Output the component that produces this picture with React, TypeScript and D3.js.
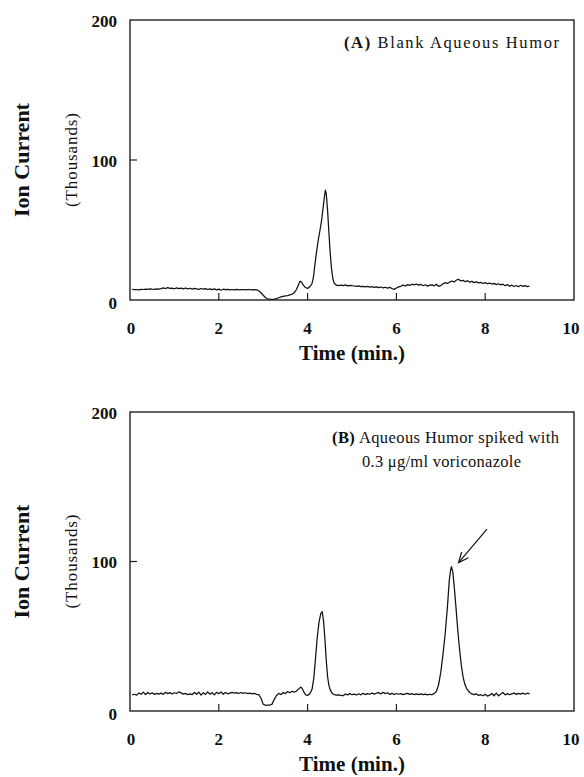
import React from "react";
import * as d3 from "d3";

// ---------- data ----------
const xTicks = [0, 2, 4, 6, 8, 10];
const yTicks = [0, 100, 200];
const xDomain: [number, number] = [0, 10];
const yDomain: [number, number] = [0, 200];

const panelATitleBold = "(A)";
const panelATitle = " Blank  Aqueous  Humor";
const panelBTitleBold = "(B)";
const panelBTitle = " Aqueous Humor spiked with";
const panelBTitle2 = "0.3 \u03bcg/ml  voriconazole";
const xTitle = "Time (min.)";
const yTitle = "Ion Current";
const yUnits = "(Thousands)";

// arrow annotation in data coords (panel B): [time, value]
const arrowFrom: [number, number] = [8.04, 121.7];
const arrowTo: [number, number] = [7.4, 99.3];

// Panel A: blank aqueous humor chromatogram [time (min), ion current (thousands)]
const traceA: [number, number][] = [
  [0.05, 7.6], [0.1, 7.4], [0.15, 7.5], [0.2, 7.3], [0.25, 7.6], [0.3, 7.5], [0.35, 7.8], [0.4, 7.6],
  [0.45, 7.9], [0.5, 7.7], [0.55, 7.6], [0.6, 8.0], [0.65, 7.8], [0.7, 8.1], [0.75, 8.6], [0.8, 8.2],
  [0.85, 8.8], [0.9, 8.3], [0.95, 8.5], [1.0, 8.0], [1.05, 8.7], [1.1, 8.1], [1.15, 8.5], [1.2, 7.9],
  [1.25, 8.6], [1.3, 8.0], [1.35, 8.4], [1.4, 7.8], [1.45, 8.3], [1.5, 8.0], [1.55, 7.6], [1.6, 8.2],
  [1.65, 7.7], [1.7, 8.1], [1.75, 7.5], [1.8, 8.0], [1.85, 7.4], [1.9, 7.9], [1.95, 7.2], [2.0, 7.8],
  [2.05, 7.0], [2.1, 7.7], [2.15, 7.4], [2.2, 7.6], [2.25, 7.3], [2.3, 7.5], [2.35, 7.2], [2.4, 7.6],
  [2.45, 7.3], [2.5, 7.4], [2.55, 7.5], [2.6, 7.3], [2.65, 7.4], [2.7, 7.5], [2.75, 7.3], [2.8, 7.4],
  [2.85, 7.2], [2.9, 6.6], [2.95, 5.2], [3.0, 3.4], [3.05, 1.8], [3.1, 0.9], [3.15, 0.6], [3.2, 0.5],
  [3.25, 0.7], [3.3, 1.0], [3.35, 1.6], [3.4, 2.2], [3.45, 2.6], [3.5, 3.0], [3.55, 3.2], [3.6, 3.6],
  [3.65, 4.2], [3.7, 5.2], [3.75, 7.5], [3.8, 11.2], [3.83, 13.4], [3.86, 13.0], [3.9, 10.8], [3.95, 8.9],
  [4.0, 8.3], [4.05, 9.4], [4.1, 11.8], [4.13, 16], [4.16, 24], [4.2, 34], [4.24, 43], [4.28, 50],
  [4.32, 58], [4.35, 66], [4.38, 74], [4.4, 78.5], [4.42, 76], [4.45, 64], [4.48, 48], [4.51, 33],
  [4.54, 22], [4.57, 15], [4.6, 12], [4.65, 10.6], [4.7, 10.2], [4.75, 10.6], [4.8, 10.3], [4.85, 10.8],
  [4.9, 10.1], [4.95, 10.5], [5.0, 10.2], [5.05, 10.0], [5.1, 9.8], [5.15, 10.1], [5.2, 9.6], [5.25, 9.8],
  [5.3, 9.4], [5.35, 9.7], [5.4, 9.2], [5.45, 9.5], [5.5, 9.0], [5.55, 9.4], [5.6, 8.8], [5.65, 9.3],
  [5.7, 8.6], [5.75, 9.1], [5.8, 8.5], [5.85, 9.0], [5.9, 8.2], [5.95, 7.6], [6.0, 8.6], [6.05, 9.4],
  [6.1, 9.8], [6.15, 10.6], [6.2, 10.0], [6.25, 11.0], [6.3, 10.4], [6.35, 11.3], [6.4, 10.8], [6.45, 11.4],
  [6.5, 10.6], [6.55, 11.1], [6.6, 10.2], [6.65, 10.9], [6.7, 9.9], [6.75, 10.6], [6.8, 10.8], [6.85, 10.1],
  [6.9, 11.2], [6.95, 9.8], [7.0, 10.3], [7.05, 11.6], [7.1, 12.4], [7.15, 11.8], [7.2, 12.8], [7.25, 13.6],
  [7.3, 12.9], [7.35, 14.2], [7.4, 14.8], [7.45, 13.6], [7.5, 14.0], [7.55, 13.0], [7.6, 13.8], [7.65, 12.7],
  [7.7, 13.3], [7.75, 12.4], [7.8, 13.0], [7.85, 12.2], [7.9, 12.6], [7.95, 11.8], [8.0, 12.4], [8.05, 11.6],
  [8.1, 12.1], [8.15, 11.4], [8.2, 11.9], [8.25, 11.0], [8.3, 11.6], [8.35, 10.8], [8.4, 11.3], [8.45, 10.2],
  [8.5, 11.0], [8.55, 9.8], [8.6, 10.6], [8.65, 9.6], [8.7, 10.4], [8.75, 9.5], [8.8, 10.5], [8.85, 9.7],
  [8.9, 10.3], [8.95, 9.6], [9.0, 10.0],
];

// Panel B: aqueous humor spiked with 0.3 ug/ml voriconazole
const traceB: [number, number][] = [
  [0.05, 10.8], [0.1, 11.2], [0.15, 10.6], [0.2, 12.0], [0.25, 11.2], [0.3, 12.6], [0.35, 11.0], [0.4, 12.4],
  [0.45, 11.4], [0.5, 12.2], [0.55, 11.0], [0.6, 11.8], [0.65, 11.3], [0.7, 12.0], [0.75, 11.1], [0.8, 12.5],
  [0.85, 11.6], [0.9, 12.3], [0.95, 11.4], [1.0, 12.2], [1.05, 11.7], [1.1, 12.8], [1.15, 12.1], [1.2, 11.3],
  [1.25, 11.8], [1.3, 10.9], [1.35, 11.5], [1.4, 11.0], [1.45, 12.4], [1.5, 11.2], [1.55, 12.6], [1.6, 10.6],
  [1.65, 12.3], [1.7, 11.1], [1.75, 12.7], [1.8, 11.3], [1.85, 12.2], [1.9, 10.8], [1.95, 12.5], [2.0, 11.6],
  [2.05, 12.8], [2.1, 11.2], [2.15, 12.4], [2.2, 11.5], [2.25, 12.0], [2.3, 12.5], [2.35, 11.9], [2.4, 12.3],
  [2.45, 11.7], [2.5, 12.4], [2.55, 11.8], [2.6, 12.2], [2.65, 11.6], [2.7, 11.9], [2.75, 11.4], [2.8, 11.8],
  [2.85, 11.2], [2.9, 11.0], [2.95, 8.5], [3.0, 4.6], [3.05, 3.8], [3.1, 3.9], [3.15, 4.0], [3.2, 4.6],
  [3.25, 7.8], [3.3, 10.4], [3.35, 11.8], [3.4, 11.0], [3.45, 12.4], [3.5, 11.6], [3.55, 13.0], [3.6, 12.2],
  [3.65, 13.2], [3.7, 12.6], [3.75, 13.4], [3.8, 14.8], [3.85, 16.0], [3.88, 15.0], [3.92, 12.4], [3.96, 10.8],
  [4.0, 10.4], [4.05, 11.6], [4.1, 14.5], [4.14, 22], [4.18, 36], [4.22, 50], [4.26, 60], [4.3, 65.5],
  [4.33, 66.4], [4.36, 60], [4.39, 48], [4.42, 34], [4.45, 23], [4.48, 17], [4.52, 13.4], [4.56, 11.6],
  [4.6, 11.0], [4.65, 10.6], [4.7, 10.8], [4.75, 10.5], [4.8, 10.2], [4.85, 11.4], [4.9, 10.8], [4.95, 11.6],
  [5.0, 10.9], [5.05, 11.3], [5.1, 10.7], [5.15, 11.5], [5.2, 10.8], [5.25, 11.8], [5.3, 11.0], [5.35, 11.6],
  [5.4, 11.2], [5.45, 12.0], [5.5, 11.3], [5.55, 11.9], [5.6, 12.3], [5.65, 11.4], [5.7, 12.5], [5.75, 11.6],
  [5.8, 12.2], [5.85, 11.1], [5.9, 11.8], [5.95, 11.0], [6.0, 11.7], [6.05, 11.2], [6.1, 11.6], [6.15, 11.0],
  [6.2, 11.5], [6.25, 11.8], [6.3, 11.1], [6.35, 11.6], [6.4, 10.9], [6.45, 11.5], [6.5, 11.0], [6.55, 11.4],
  [6.6, 10.9], [6.65, 11.3], [6.7, 10.8], [6.75, 11.2], [6.8, 11.0], [6.85, 11.6], [6.9, 13.0], [6.95, 17.5],
  [7.0, 26], [7.05, 38], [7.1, 52], [7.15, 70], [7.19, 87], [7.22, 94], [7.24, 96.5], [7.27, 93],
  [7.3, 84], [7.34, 70], [7.38, 55], [7.42, 42], [7.46, 31], [7.5, 23], [7.54, 18], [7.58, 15],
  [7.62, 13.4], [7.66, 12.2], [7.7, 11.4], [7.75, 11.0], [7.8, 11.5], [7.85, 10.4], [7.9, 10.9], [7.95, 10.2],
  [8.0, 11.2], [8.05, 10.0], [8.1, 10.6], [8.15, 11.7], [8.2, 10.2], [8.25, 11.9], [8.3, 10.1], [8.35, 11.3],
  [8.4, 12.4], [8.45, 10.8], [8.5, 11.6], [8.55, 10.9], [8.6, 11.5], [8.65, 12.0], [8.7, 11.1], [8.75, 11.8],
  [8.8, 11.3], [8.85, 12.0], [8.9, 11.2], [8.95, 11.9], [9.0, 11.5],
];

// ---------- layout ----------
const W = 584;
const H = 777;
const FONT = "'Liberation Serif', 'Times New Roman', serif";
const plotLeft = 130;
const plotRight = 574;
const panelA = { top: 20, bottom: 300 };
const panelB = { top: 412, bottom: 711 };

type PanelProps = {
  top: number;
  bottom: number;
  data: [number, number][];
  xTitleY: number;
  children?: React.ReactNode;
  renderExtra?: (x: d3.ScaleLinear<number, number>, y: d3.ScaleLinear<number, number>) => React.ReactNode;
};

function Panel({ top, bottom, data, xTitleY, children, renderExtra }: PanelProps) {
  const x = d3.scaleLinear().domain(xDomain).range([plotLeft, plotRight]);
  const y = d3.scaleLinear().domain(yDomain).range([bottom, top]);
  const line = d3
    .line<[number, number]>()
    .x((d) => x(d[0]))
    .y((d) => y(d[1]))
    .curve(d3.curveLinear);
  const tickLen = 7;
  const midY = (top + bottom) / 2;
  return (
    <g>
      {/* frame */}
      <rect
        x={plotLeft}
        y={top}
        width={plotRight - plotLeft}
        height={bottom - top}
        fill="none"
        stroke="#222"
        strokeWidth={1.4}
      />
      {/* x ticks (inward), skip ends */}
      {xTicks
        .filter((t) => t > xDomain[0] && t < xDomain[1])
        .map((t) => (
          <line key={"xt" + t} x1={x(t)} x2={x(t)} y1={bottom} y2={bottom - tickLen} stroke="#222" strokeWidth={1.2} />
        ))}
      {/* y ticks (inward), skip ends */}
      {yTicks
        .filter((t) => t > yDomain[0] && t < yDomain[1])
        .map((t) => (
          <line key={"yt" + t} x1={plotLeft} x2={plotLeft + tickLen} y1={y(t)} y2={y(t)} stroke="#222" strokeWidth={1.2} />
        ))}
      {/* x tick labels */}
      {xTicks.map((t) => (
        <text
          key={"xl" + t}
          x={x(t) + (t === xDomain[0] ? 1 : t === xDomain[1] ? -3 : 0)}
          y={bottom + 34}
          textAnchor="middle"
          fontFamily={FONT}
          fontWeight="bold"
          fontSize={17}
          fill="#111"
        >
          {t}
        </text>
      ))}
      {/* y tick labels */}
      {yTicks.map((t) => (
        <text
          key={"yl" + t}
          x={plotLeft - 13}
          y={y(t) + (t === 0 ? 9 : 6.5)}
          textAnchor="end"
          fontFamily={FONT}
          fontWeight="bold"
          fontSize={17}
          fill="#111"
        >
          {t}
        </text>
      ))}
      {/* axis titles */}
      <text
        transform={`translate(29,${midY}) rotate(-90)`}
        textAnchor="middle"
        fontFamily={FONT}
        fontWeight="bold"
        fontSize={22}
        fill="#111"
      >
        {yTitle}
      </text>
      <text
        transform={`translate(${77},${midY - 47}) rotate(-90)`}
        textAnchor="start"
        fontFamily={FONT}
        fontSize={17}
        fill="#111"
        textLength={94}
        lengthAdjust="spacing"
        x={-94}
      >
        {yUnits}
      </text>
      <text
        x={352}
        y={xTitleY}
        textAnchor="middle"
        fontFamily={FONT}
        fontWeight="bold"
        fontSize={21}
        fill="#111"
      >
        {xTitle}
      </text>
      {/* trace */}
      <path d={line(data) || ""} fill="none" stroke="#111" strokeWidth={1.25} strokeLinejoin="round" />
      {renderExtra ? renderExtra(x, y) : null}
      {children}
    </g>
  );
}

function Arrow({ x1, y1, x2, y2 }: { x1: number; y1: number; x2: number; y2: number }) {
  const ang = Math.atan2(y2 - y1, x2 - x1);
  const len = 11;
  const spread = 0.42;
  const a1 = ang + Math.PI - spread;
  const a2 = ang + Math.PI + spread;
  return (
    <g stroke="#111" strokeWidth={1.2} fill="none">
      <line x1={x1} y1={y1} x2={x2} y2={y2} />
      <path
        d={`M${x2 + len * Math.cos(a1)},${y2 + len * Math.sin(a1)} L${x2},${y2} L${x2 + len * Math.cos(a2)},${y2 + len * Math.sin(a2)}`}
      />
    </g>
  );
}

export default function App() {
  return (
    <svg
      width={W}
      height={H}
      viewBox={`0 0 ${W} ${H}`}
      style={{ position: "absolute", left: 0, top: 0, background: "#fff" }}
    >
      <rect x={0} y={0} width={W} height={H} fill="#fff" />
      <Panel top={panelA.top} bottom={panelA.bottom} data={traceA} xTitleY={360}>
        <text x={344} y={48} fontFamily={FONT} fontSize={16.5} fill="#111" textLength={215} lengthAdjust="spacing">
          <tspan fontWeight="bold">{panelATitleBold}</tspan>
          <tspan>{panelATitle}</tspan>
        </text>
      </Panel>
      <Panel
        top={panelB.top}
        bottom={panelB.bottom}
        data={traceB}
        xTitleY={771}
        renderExtra={(x, y) => (
          <Arrow x1={x(arrowFrom[0])} y1={y(arrowFrom[1])} x2={x(arrowTo[0])} y2={y(arrowTo[1])} />
        )}
      >
        <text x={332} y={443} fontFamily={FONT} fontSize={16.5} fill="#111" textLength={227} lengthAdjust="spacing">
          <tspan fontWeight="bold">{panelBTitleBold}</tspan>
          <tspan>{panelBTitle}</tspan>
        </text>
        <text x={362} y={467} fontFamily={FONT} fontSize={16.5} fill="#111" textLength={159} lengthAdjust="spacing">
          {panelBTitle2}
        </text>
      </Panel>
    </svg>
  );
}
